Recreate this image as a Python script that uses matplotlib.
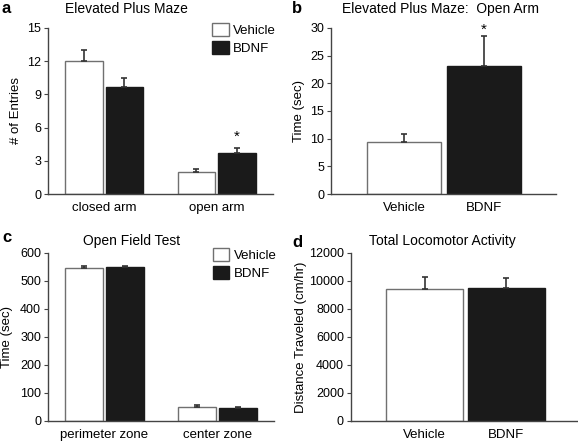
import matplotlib.pyplot as plt
import numpy as np

plt.rcParams['font.family'] = ['Liberation Sans', 'DejaVu Sans']
plt.rcParams['font.size'] = 9

# a: elevated plus maze entries
epm_groups = ['closed arm', 'open arm']
epm_veh = [12.0, 1.95]
epm_veh_err = [1.0, 0.3]
epm_bdnf = [9.65, 3.75]
epm_bdnf_err = [0.85, 0.45]

# b: open arm time
arm_labels = ['Vehicle', 'BDNF']
arm_time = [9.4, 23.1]
arm_err = [1.5, 5.4]

# c: open field
of_groups = ['perimeter zone', 'center zone']
of_veh = [547, 50]
of_veh_err = [6, 5]
of_bdnf = [549, 47]
of_bdnf_err = [3, 3]

# d: locomotor
loco_labels = ['Vehicle', 'BDNF']
loco = [9400, 9500]
loco_err = [900, 700]

edge = '#707070'
axc = '#444444'
W, H = 578, 443

fig = plt.figure(figsize=(5.78, 4.43), dpi=100)
ax_a = fig.add_axes([0.083, 0.562, 0.389, 0.375])
ax_b = fig.add_axes([0.573, 0.562, 0.389, 0.375])
ax_c = fig.add_axes([0.083, 0.050, 0.391, 0.379])
ax_d = fig.add_axes([0.607, 0.050, 0.391, 0.379])


def style(ax):
    for s in ['top', 'right']:
        ax.spines[s].set_visible(False)
    for s in ['left', 'bottom']:
        ax.spines[s].set_color(axc)
        ax.spines[s].set_linewidth(1.0)
    ax.tick_params(axis='y', direction='out', length=3, color=axc, labelsize=9, pad=2)
    ax.tick_params(axis='x', length=0, labelsize=9.5, pad=6)


def err(ax, x, y, e):
    ax.errorbar(x, y, yerr=[np.zeros(len(e)), e], fmt='none', ecolor='#333333',
                elinewidth=1.2, capsize=2.5, capthick=1.2, clip_on=False)


def grouped(ax, groups, veh, veh_e, bd, bd_e):
    x = np.arange(1, len(groups) + 1)
    w = 0.335
    off = 0.18
    ax.bar(x - off, veh, w, color='white', edgecolor=edge, linewidth=1.0, label='Vehicle', zorder=2)
    ax.bar(x + off, bd, w, color='#1a1a1a', edgecolor='#1a1a1a', linewidth=1.0, label='BDNF', zorder=2)
    err(ax, x - off, veh, veh_e)
    err(ax, x + off, bd, bd_e)
    ax.set_xticks(x)
    ax.set_xticklabels(groups)
    ax.set_xlim(0.5, 2.5)
    ax.legend(loc='upper left', bbox_to_anchor=(0.73, 1.03), frameon=False,
              borderaxespad=0, borderpad=0,
              handlelength=1.25, handleheight=1.1, handletextpad=0.35,
              labelspacing=0.35, fontsize=9.5)
    return x


def single(ax, labels, vals, e, xlim):
    x = np.arange(1, len(labels) + 1)
    ax.bar(x[0], vals[0], 0.93, color='white', edgecolor=edge, linewidth=1.0, zorder=2)
    ax.bar(x[1], vals[1], 0.93, color='#1a1a1a', edgecolor='#1a1a1a', linewidth=1.0, zorder=2)
    err(ax, x, vals, e)
    ax.set_xticks(x)
    ax.set_xticklabels(labels)
    ax.set_xlim(*xlim)
    return x


for ax in [ax_a, ax_b, ax_c, ax_d]:
    style(ax)

# a
xa = grouped(ax_a, epm_groups, epm_veh, epm_veh_err, epm_bdnf, epm_bdnf_err)
ax_a.set_ylim(0, 15)
ax_a.set_yticks([0, 3, 6, 9, 12, 15])
ax_a.set_ylabel('# of Entries', fontsize=9.5)
ax_a.yaxis.set_label_coords(-0.116, 0.5)
ax_a.text(xa[1] + 0.18, 5.2, '*', ha='center', va='center', fontsize=11)

# b
xb = single(ax_b, arm_labels, arm_time, arm_err, (0.09, 2.9))
ax_b.set_ylim(0, 30)
ax_b.set_yticks([0, 5, 10, 15, 20, 25, 30])
ax_b.set_ylabel('Time (sec)', fontsize=9.5)
ax_b.yaxis.set_label_coords(-0.116, 0.5)
ax_b.text(xb[1], 29.6, '*', ha='center', va='center', fontsize=11, clip_on=False)

# c
grouped(ax_c, of_groups, of_veh, of_veh_err, of_bdnf, of_bdnf_err)
ax_c.set_ylim(0, 600)
ax_c.set_yticks([0, 100, 200, 300, 400, 500, 600])
ax_c.set_ylabel('Time (sec)', fontsize=9.5)
ax_c.yaxis.set_label_coords(-0.155, 0.5)

# d
single(ax_d, loco_labels, loco, loco_err, (0.1, 2.86))
ax_d.set_ylim(0, 12000)
ax_d.set_yticks([0, 2000, 4000, 6000, 8000, 10000, 12000])
ax_d.set_ylabel('Distance Traveled (cm/hr)', fontsize=9.5)
ax_d.yaxis.set_label_coords(-0.195, 0.5)

# titles, placed by pixel (center x, baseline y)
titles = ['Elevated Plus Maze', 'Elevated Plus Maze:  Open Arm',
          'Open Field Test', 'Total Locomotor Activity']
title_pos = [(126, 13), (441, 13), (132, 245), (442, 245)]
for t, (px, py) in zip(titles, title_pos):
    fig.text(px / W, 1 - py / H, t, fontsize=10, ha='center', va='baseline')

# panel letters
letter_pos = [(1, 13), (292, 13), (2, 242), (292, 247)]
for lbl, (px, py) in zip('abcd', letter_pos):
    fig.text(px / W, 1 - py / H, lbl, fontsize=12, fontweight='bold', ha='left', va='baseline')

fig.savefig('out.png', dpi=100)
